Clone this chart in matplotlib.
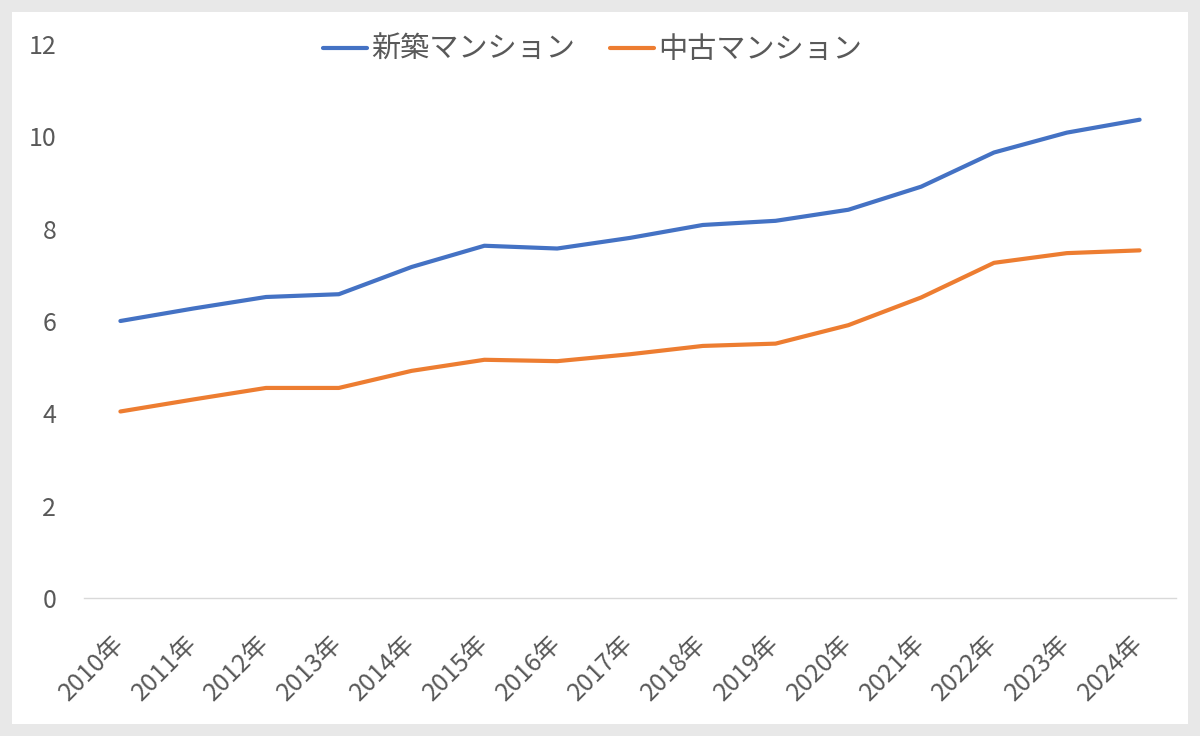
import matplotlib
matplotlib.use('Agg')
import matplotlib.pyplot as plt
from matplotlib.patches import Rectangle

plt.rcParams['font.family'] = ['Noto Sans CJK JP', 'DejaVu Sans']

years = ['2010年', '2011年', '2012年', '2013年', '2014年', '2015年', '2016年', '2017年',
         '2018年', '2019年', '2020年', '2021年', '2022年', '2023年', '2024年']
new_condo = [6.00, 6.27, 6.52, 6.58, 7.17, 7.63, 7.57, 7.80, 8.08, 8.17, 8.41, 8.91, 9.65, 10.08, 10.36]
used_condo = [4.04, 4.30, 4.55, 4.55, 4.92, 5.16, 5.13, 5.28, 5.46, 5.51, 5.91, 6.51, 7.26, 7.47, 7.53]

text_color = '#595959'

fig = plt.figure(figsize=(12, 7.36), dpi=100)
fig.patch.set_facecolor('#e8e8e8')
# white chart area inside the grey border
fig.patches.append(Rectangle((12 / 1200, 12 / 736), 1176 / 1200, 712 / 736,
                             transform=fig.transFigure, facecolor='white',
                             edgecolor='none', zorder=-10))

ax = fig.add_axes([84 / 1200, 138 / 736, 1092 / 1200, 554 / 736])
ax.set_facecolor('none')

x = range(len(years))
ax.plot(x, new_condo, color='#4472C4', lw=3, label='新築マンション', solid_capstyle='round')
ax.plot(x, used_condo, color='#ED7D31', lw=3, label='中古マンション', solid_capstyle='round')

ax.set_xlim(-0.5, len(years) - 0.5)
ax.set_ylim(0, 12)
ax.set_yticks(range(0, 13, 2))
ax.set_xticks(list(x))
ax.set_xticklabels(years, rotation=45, ha='right', va='center', rotation_mode='anchor')

for s in ['top', 'right', 'left']:
    ax.spines[s].set_visible(False)
ax.spines['bottom'].set_color('#d9d9d9')
ax.spines['bottom'].set_linewidth(1)

ax.tick_params(axis='y', length=0, pad=20, labelsize=18, labelcolor=text_color)
ax.tick_params(axis='x', length=0, pad=30, labelsize=18, labelcolor=text_color)

fig.legend(loc='center', bbox_to_anchor=(0.494, 0.932), ncol=2, frameon=False,
           fontsize=21, labelcolor=text_color, handlelength=1.5,
           handletextpad=0.15, columnspacing=1.2)

fig.savefig('out.png', dpi=100, facecolor=fig.get_facecolor())
